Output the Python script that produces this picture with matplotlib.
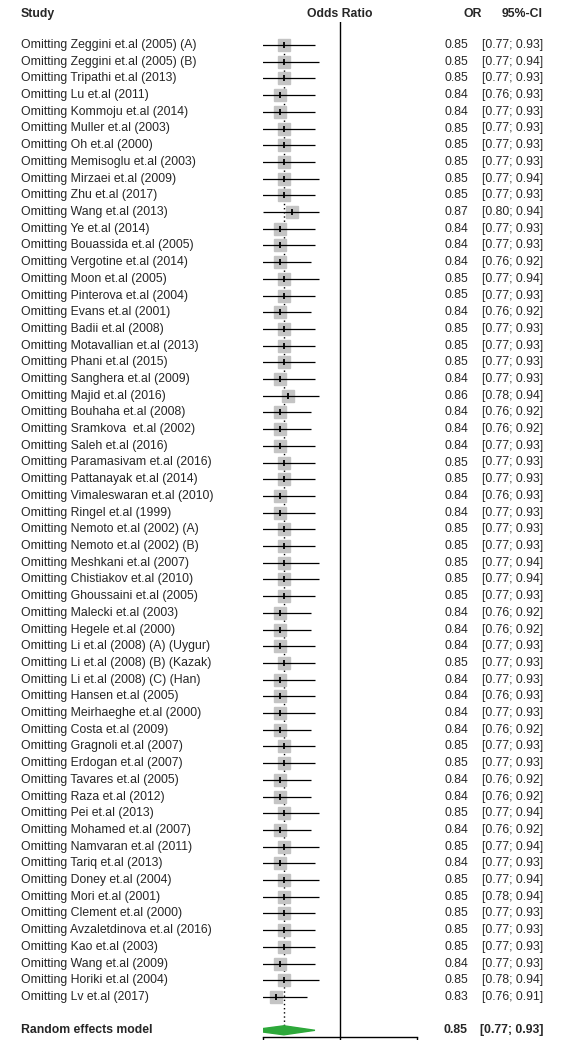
import matplotlib.pyplot as plt
import matplotlib.transforms as mtransforms
import numpy as np

# leave-one-out results
studies = [
    "Zeggini et.al (2005) (A)", "Zeggini et.al (2005) (B)", "Tripathi et.al (2013)",
    "Lu et.al (2011)", "Kommoju et.al (2014)", "Muller et.al (2003)", "Oh et.al (2000)",
    "Memisoglu et.al (2003)", "Mirzaei et.al (2009)", "Zhu et.al (2017)", "Wang et.al (2013)",
    "Ye et.al (2014)", "Bouassida et.al (2005)", "Vergotine et.al (2014)", "Moon et.al (2005)",
    "Pinterova et.al (2004)", "Evans et.al (2001)", "Badii et.al (2008)",
    "Motavallian et.al (2013)", "Phani et.al (2015)", "Sanghera et.al (2009)",
    "Majid et.al (2016)", "Bouhaha et.al (2008)", "Sramkova  et.al (2002)",
    "Saleh et.al (2016)", "Paramasivam et.al (2016)", "Pattanayak et.al (2014)",
    "Vimaleswaran et.al (2010)", "Ringel et.al (1999)", "Nemoto et.al (2002) (A)",
    "Nemoto et.al (2002) (B)", "Meshkani et.al (2007)", "Chistiakov et.al (2010)",
    "Ghoussaini et.al (2005)", "Malecki et.al (2003)", "Hegele et.al (2000)",
    "Li et.al (2008) (A) (Uygur)", "Li et.al (2008) (B) (Kazak)", "Li et.al (2008) (C) (Han)",
    "Hansen et.al (2005)", "Meirhaeghe et.al (2000)", "Costa et.al (2009)",
    "Gragnoli et.al (2007)", "Erdogan et.al (2007)", "Tavares et.al (2005)",
    "Raza et.al (2012)", "Pei et.al (2013)", "Mohamed et.al (2007)", "Namvaran et.al (2011)",
    "Tariq et.al (2013)", "Doney et.al (2004)", "Mori et.al (2001)", "Clement et.al (2000)",
    "Avzaletdinova et.al (2016)", "Kao et.al (2003)", "Wang et.al (2009)",
    "Horiki et.al (2004)", "Lv et.al (2017)",
]
or_vals = [0.85, 0.85, 0.85, 0.84, 0.84, 0.85, 0.85, 0.85, 0.85, 0.85, 0.87, 0.84,
           0.84, 0.84, 0.85, 0.85, 0.84, 0.85, 0.85, 0.85, 0.84, 0.86, 0.84, 0.84,
           0.84, 0.85, 0.85, 0.84, 0.84, 0.85, 0.85, 0.85, 0.85, 0.85, 0.84, 0.84,
           0.84, 0.85, 0.84, 0.84, 0.84, 0.84, 0.85, 0.85, 0.84, 0.84, 0.85, 0.84,
           0.85, 0.84, 0.85, 0.85, 0.85, 0.85, 0.85, 0.84, 0.85, 0.83]
ci_low = [0.77, 0.77, 0.77, 0.76, 0.77, 0.77, 0.77, 0.77, 0.77, 0.77, 0.80, 0.77,
          0.77, 0.76, 0.77, 0.77, 0.76, 0.77, 0.77, 0.77, 0.77, 0.78, 0.76, 0.76,
          0.77, 0.77, 0.77, 0.76, 0.77, 0.77, 0.77, 0.77, 0.77, 0.77, 0.76, 0.76,
          0.77, 0.77, 0.77, 0.76, 0.77, 0.76, 0.77, 0.77, 0.76, 0.76, 0.77, 0.76,
          0.77, 0.77, 0.77, 0.78, 0.77, 0.77, 0.77, 0.77, 0.78, 0.76]
ci_high = [0.93, 0.94, 0.93, 0.93, 0.93, 0.93, 0.93, 0.93, 0.94, 0.93, 0.94, 0.93,
           0.93, 0.92, 0.94, 0.93, 0.92, 0.93, 0.93, 0.93, 0.93, 0.94, 0.92, 0.92,
           0.93, 0.93, 0.93, 0.93, 0.93, 0.93, 0.93, 0.94, 0.94, 0.93, 0.92, 0.92,
           0.93, 0.93, 0.93, 0.93, 0.93, 0.92, 0.93, 0.93, 0.92, 0.92, 0.94, 0.92,
           0.94, 0.93, 0.94, 0.94, 0.93, 0.93, 0.93, 0.93, 0.94, 0.91]
summary_label = "Random effects model"
summary_or, summary_lo, summary_hi = 0.85, 0.77, 0.93
x_ticks = [0.8, 1, 1.25]

plt.rcParams['font.family'] = ['Liberation Sans', 'DejaVu Sans']

W, H = 567, 1040
fig = plt.figure(figsize=(W / 100, H / 100), dpi=100)

# pixel layout of the plot panel
row0, step = 45, 16.7
ax_top, ax_bot = 22, 1037
x_left, x_right = 263, 417
ax = fig.add_axes([x_left / W, 1 - ax_bot / H, (x_right - x_left) / W, (ax_bot - ax_top) / H])
ax.set_xscale('log')
ax.set_xlim(x_ticks[0], x_ticks[-1])
ax.set_ylim((ax_bot - row0) / step, (ax_top - row0) / step)
ax.patch.set_alpha(0)

n = len(studies)
y = np.arange(n)
y_sum = n + 1

ax.axvline(1, color='black', lw=1)
ax.plot([summary_or, summary_or], [0, y_sum], ls=(0, (1, 2)), color='black', lw=1, zorder=1)

ax.plot(or_vals, y, ls='none', marker='s', ms=9, color='#c4c4c4', mec='#c4c4c4', zorder=2)
ax.hlines(y, ci_low, ci_high, color='black', lw=0.9, zorder=3)
ax.plot(or_vals, y, ls='none', marker='|', ms=4, mew=1.3, color='black', zorder=4)

h = 0.27
ax.fill([summary_lo, summary_or, summary_hi, summary_or],
        [y_sum, y_sum - h, y_sum, y_sum + h], color='#2da83a', ec='#2da83a', lw=1, zorder=3)

for s in ['top', 'left', 'right']:
    ax.spines[s].set_visible(False)
ax.spines['bottom'].set_linewidth(1)
ax.set_yticks([])
ax.set_xticks(x_ticks)
ax.set_xticklabels([])
ax.xaxis.set_minor_locator(plt.NullLocator())
ax.tick_params(axis='x', length=6, width=1)

# text columns
trans = mtransforms.blended_transform_factory(fig.transFigure, ax.transData)
fs = 8.8
col = '#262626'
for i in range(n):
    fig.text(21 / W, y[i], "Omitting " + studies[i], transform=trans, fontsize=fs,
             color=col, va='center', ha='left')
    fig.text(468 / W, y[i], f"{or_vals[i]:.2f}", transform=trans, fontsize=fs,
             color=col, va='center', ha='right')
    fig.text(543 / W, y[i], f"[{ci_low[i]:.2f}; {ci_high[i]:.2f}]", transform=trans,
             fontsize=fs, color=col, va='center', ha='right')

fig.text(21 / W, y_sum, summary_label, transform=trans, fontsize=fs, color=col,
         va='center', ha='left', fontweight='bold')
fig.text(468 / W, y_sum, f"{summary_or:.2f}", transform=trans, fontsize=fs, color=col,
         va='center', ha='right', fontweight='bold')
fig.text(543 / W, y_sum, f"[{summary_lo:.2f}; {summary_hi:.2f}]", transform=trans,
         fontsize=fs, color=col, va='center', ha='right', fontweight='bold')

# header
hy = 1 - 14 / H
fig.text(21 / W, hy, "Study", fontsize=fs, color=col, va='center', ha='left', fontweight='bold')
fig.text(340 / W, hy, "Odds Ratio", fontsize=fs, color=col, va='center', ha='center', fontweight='bold')
fig.text(482 / W, hy, "OR", fontsize=fs, color=col, va='center', ha='right', fontweight='bold')
fig.text(543 / W, hy, "95%-CI", fontsize=fs, color=col, va='center', ha='right', fontweight='bold')

fig.savefig('out.png', dpi=100)
